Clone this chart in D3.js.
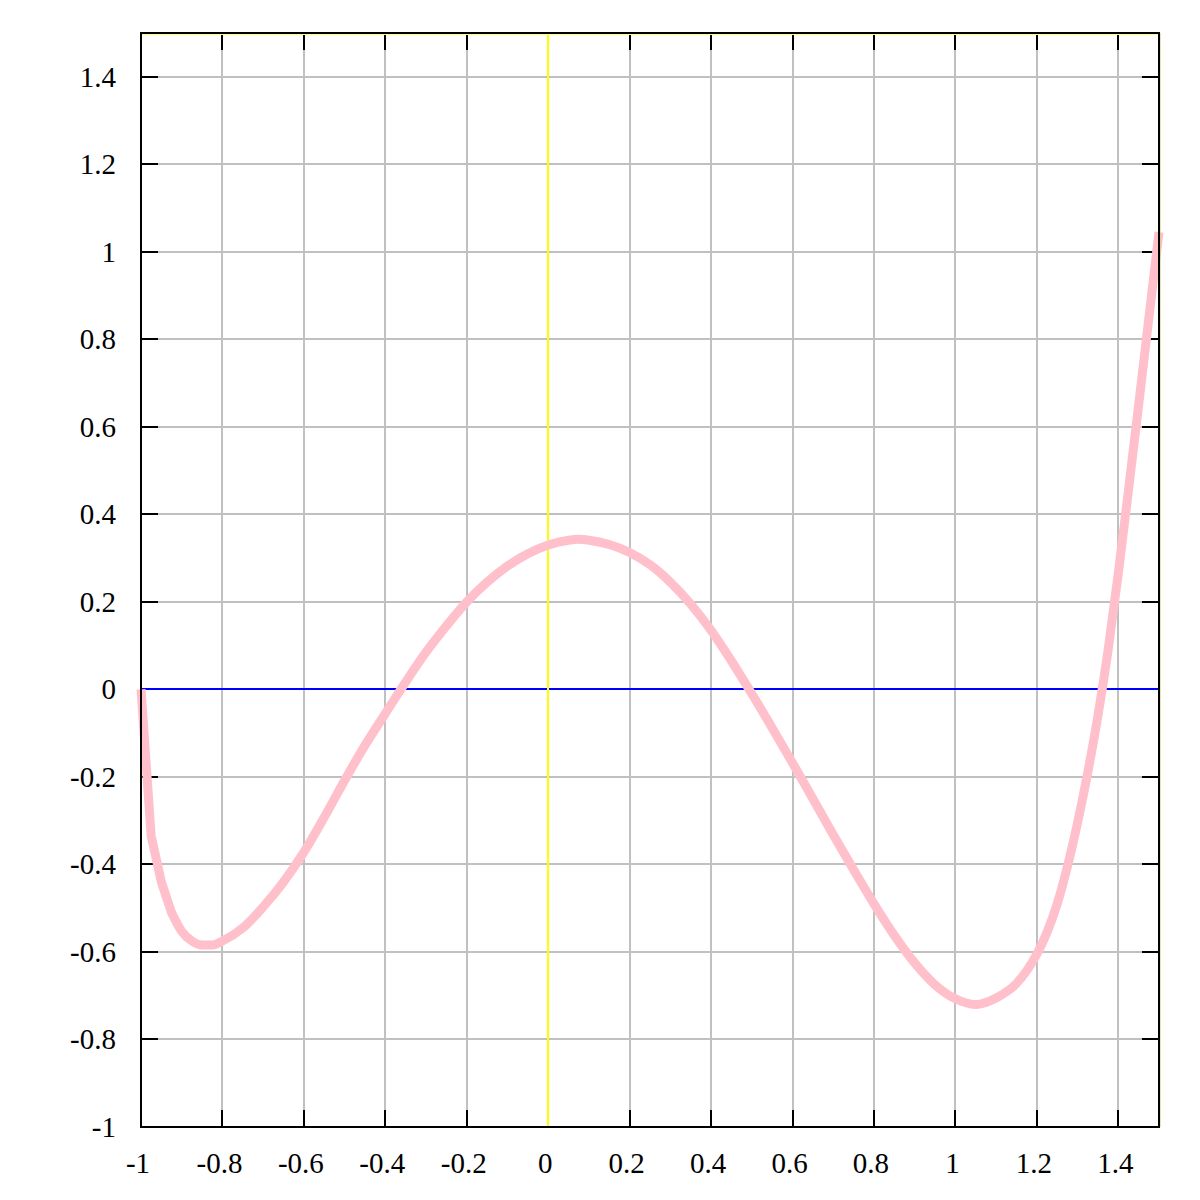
<!DOCTYPE html>
<html>
<head>
<meta charset="utf-8">
<script src="https://cdn.jsdelivr.net/npm/d3@7"></script>
<style>
  html, body { margin: 0; padding: 0; background: #fff; }
  svg { display: block; }
  text { font-family: "Liberation Serif", serif; font-size: 29px; fill: #000; }
</style>
</head>
<body>
<script>
// ---- data ----
const curveX = [-1, -0.975, -0.95, -0.925, -0.9, -0.875, -0.85, -0.825, -0.8, -0.75,
  -0.7, -0.65, -0.6, -0.55, -0.5, -0.45, -0.4, -0.35, -0.3, -0.25,
  -0.2, -0.15, -0.1, -0.05, 0, 0.05, 0.075, 0.1, 0.15, 0.2,
  0.25, 0.3, 0.35, 0.4, 0.45, 0.5, 0.55, 0.6, 0.65, 0.7,
  0.75, 0.8, 0.85, 0.9, 0.95, 1.0, 1.05, 1.1, 1.15, 1.175, 1.2,
  1.225, 1.25, 1.275, 1.3, 1.325, 1.35, 1.375, 1.4, 1.425, 1.45, 1.475, 1.5];
const curveY = [0, -0.335, -0.44, -0.51, -0.553, -0.575, -0.584, -0.584, -0.575, -0.545,
  -0.497, -0.44, -0.372, -0.292, -0.208, -0.128, -0.055, 0.017, 0.085, 0.145,
  0.2, 0.245, 0.282, 0.31, 0.33, 0.341, 0.343, 0.341, 0.331, 0.313,
  0.285, 0.245, 0.195, 0.135, 0.065, -0.01, -0.088, -0.168, -0.25, -0.332,
  -0.412, -0.49, -0.562, -0.625, -0.675, -0.707, -0.72, -0.705, -0.672, -0.643, -0.605,
  -0.555, -0.49, -0.405, -0.305, -0.19, -0.06, 0.09, 0.265, 0.455, 0.65, 0.848, 1.045];
const xTicks = [-1, -0.8, -0.6, -0.4, -0.2, 0, 0.2, 0.4, 0.6, 0.8, 1, 1.2, 1.4];
const xTickLabels = ["-1", "-0.8", "-0.6", "-0.4", "-0.2", "0", "0.2", "0.4", "0.6", "0.8", "1", "1.2", "1.4"];
const yTicks = [-1, -0.8, -0.6, -0.4, -0.2, 0, 0.2, 0.4, 0.6, 0.8, 1, 1.2, 1.4];
const yTickLabels = ["-1", "-0.8", "-0.6", "-0.4", "-0.2", "0", "0.2", "0.4", "0.6", "0.8", "1", "1.2", "1.4"];
const xDomain = [-1, 1.5];
const yDomain = [-1, 1.5];

// ---- layout ----
const W = 1200, H = 1200;
const L = 141, R = 1159, T = 33, B = 1127;
const tickLen = 17;

const svg = d3.select("body").append("svg").attr("width", W).attr("height", H);
svg.append("rect").attr("width", W).attr("height", H).attr("fill", "#fff");

const x = d3.scaleLinear().domain(xDomain).range([L, R]);
const y = d3.scaleLinear().domain(yDomain).range([B, T]);

// grid
const grid = svg.append("g").attr("stroke", "#c0c0c0").attr("stroke-width", 2)
  .attr("shape-rendering", "crispEdges");
xTicks.filter(v => v !== xDomain[0]).forEach(v => {
  grid.append("line").attr("x1", x(v)).attr("x2", x(v)).attr("y1", T).attr("y2", B);
});
yTicks.filter(v => v !== yDomain[0]).forEach(v => {
  grid.append("line").attr("x1", L).attr("x2", R).attr("y1", y(v)).attr("y2", y(v));
});

// ticks (inside, all four sides)
const tk = svg.append("g").attr("stroke", "#000").attr("stroke-width", 2)
  .attr("shape-rendering", "crispEdges");
xTicks.forEach(v => {
  tk.append("line").attr("x1", x(v)).attr("x2", x(v)).attr("y1", B).attr("y2", B - tickLen);
  tk.append("line").attr("x1", x(v)).attr("x2", x(v)).attr("y1", T).attr("y2", T + tickLen);
});
yTicks.forEach(v => {
  tk.append("line").attr("x1", L).attr("x2", L + tickLen).attr("y1", y(v)).attr("y2", y(v));
  tk.append("line").attr("x1", R).attr("x2", R - tickLen).attr("y1", y(v)).attr("y2", y(v));
});

// zero axes
svg.append("line").attr("x1", L).attr("x2", R).attr("y1", y(0)).attr("y2", y(0))
  .attr("stroke", "#0000ff").attr("stroke-width", 2).attr("shape-rendering", "crispEdges");
svg.append("line").attr("x1", x(0)).attr("x2", x(0)).attr("y1", T).attr("y2", B)
  .attr("stroke", "#ffff00").attr("stroke-width", 2).attr("shape-rendering", "crispEdges");

// curve
const pts = curveX.map((v, i) => [v, curveY[i]]);
const head = pts.slice(0, 4);
const rest = pts.slice(3);
const line = d3.line().x(d => x(d[0])).y(d => y(d[1]));
svg.append("path").datum(head)
  .attr("d", line.curve(d3.curveLinear)(head))
  .attr("fill", "none").attr("stroke", "#ffc0cb").attr("stroke-width", 9)
  .attr("stroke-linejoin", "miter").attr("stroke-linecap", "butt");
svg.append("path").datum(rest)
  .attr("d", line.curve(d3.curveMonotoneX)(rest))
  .attr("fill", "none").attr("stroke", "#ffc0cb").attr("stroke-width", 9)
  .attr("stroke-linejoin", "round").attr("stroke-linecap", "butt");
// smooth joint between the two pieces
svg.append("circle").attr("cx", x(head[3][0])).attr("cy", y(head[3][1])).attr("r", 4.5)
  .attr("fill", "#ffc0cb");

// border
svg.append("line").attr("x1", L).attr("x2", R).attr("y1", T + 1.5).attr("y2", T + 1.5)
  .attr("stroke", "#ffff80").attr("stroke-width", 1);
svg.append("line").attr("x1", R + 1).attr("x2", R + 1).attr("y1", T).attr("y2", B)
  .attr("stroke", "#cccc66").attr("stroke-width", 1);
svg.append("rect").attr("x", L).attr("y", T).attr("width", R - L).attr("height", B - T)
  .attr("fill", "none").attr("stroke", "#000").attr("stroke-width", 2);

// labels
const lab = svg.append("g");
xTicks.forEach((v, i) => {
  lab.append("text").attr("x", x(v) - 3).attr("y", B + 46).attr("text-anchor", "middle").text(xTickLabels[i]);
});
yTicks.forEach((v, i) => {
  lab.append("text").attr("x", 116).attr("y", y(v) + 10).attr("text-anchor", "end").text(yTickLabels[i]);
});
</script>
</body>
</html>
